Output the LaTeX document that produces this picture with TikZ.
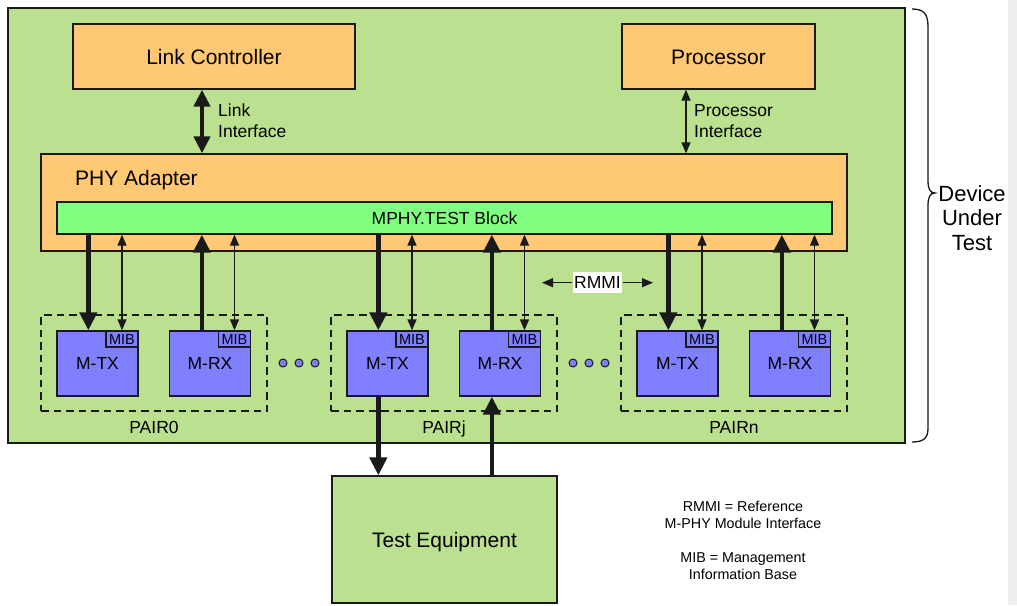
\documentclass[tikz,border=0pt]{standalone}
\usepackage{fontspec}
\setmainfont{Liberation Sans}
\usetikzlibrary{arrows.meta,calc}

\definecolor{dutgreen}{RGB}{187,224,143}
\definecolor{blockorange}{RGB}{255,200,117}
\definecolor{testgreen}{RGB}{128,255,128}
\definecolor{phyblue}{RGB}{128,128,255}
\definecolor{edgegray}{RGB}{239,239,239}
\definecolor{outline}{RGB}{26,26,26}

\newcommand{\fbig}{\fontsize{21}{24}\selectfont}
\newcommand{\fmid}{\fontsize{17.5}{21}\selectfont}
\newcommand{\fmib}{\fontsize{14.5}{16}\selectfont}
\newcommand{\fnote}{\fontsize{14.3}{17.4}\selectfont}

\tikzset{
  boxline/.style={draw=outline, line width=1.3pt, inner sep=0pt},
  dutbox/.style={boxline, fill=dutgreen},
  orangebox/.style={boxline, fill=blockorange, font=\fbig, text height=15pt, text depth=0pt},
  testblock/.style={boxline, fill=testgreen, font=\fmid, text height=12.6pt, text depth=0pt},
  unitbox/.style={boxline, fill=phyblue, minimum width=81pt, minimum height=65pt,
    font=\fmid, text height=12.6pt, text depth=0pt},
  mibbox/.style={boxline, fill=phyblue, minimum width=32pt, minimum height=16pt,
    font=\fmib, text height=10.4pt, text depth=0pt},
  pairbox/.style={draw=outline, line width=1.3pt, dash pattern=on 7.5pt off 5pt,
    minimum width=226pt, minimum height=96pt, inner sep=0pt},
  pairlabel/.style={inner sep=0pt, font=\fmid, text height=12.6pt, text depth=0pt},
  ellipsisdot/.style={circle, draw=outline, line width=1pt, fill=phyblue,
    minimum size=8pt, inner sep=0pt},
  biglink/.style={line width=4.5pt, outline,
    arrows={-Triangle[length=18pt,width=17pt]}},
  bigboth/.style={line width=4.5pt, outline,
    arrows={Triangle[length=17pt,width=16pt]-Triangle[length=17pt,width=16pt]}},
  thinlink/.style={line width=1.3pt, outline,
    arrows={-Triangle[length=11pt,width=9pt]}},
  thinboth/.style={line width=1.3pt, outline,
    arrows={Triangle[length=11pt,width=9pt]-Triangle[length=11pt,width=9pt]}},
}

\begin{document}
\begin{tikzpicture}[x=1pt, y=-1pt]
\useasboundingbox (0,0) rectangle (1017,605);
\fill[white] (0,0) rectangle (1017,605);
\fill[edgegray] (1008,0) rectangle (1017,605);

% device under test
\node[dutbox, minimum width=897pt, minimum height=435pt] (dut) at (456.5,225.5) {};

% upper blocks
\node[orangebox, minimum width=282pt, minimum height=65pt] (lc) at (214,56.5) {Link Controller};
\node[orangebox, minimum width=193pt, minimum height=65pt] (proc) at (718.5,56.5) {Processor};

\node[boxline, fill=blockorange, minimum width=806pt, minimum height=97pt] (phy) at (444,202.5) {};
\node[anchor=base west, inner sep=0pt, font=\fbig] (phylabel) at (75,185) {PHY Adapter};
\node[testblock, minimum width=775pt, minimum height=32pt] (mphy) at (444.5,218) {MPHY.TEST Block};

% link and processor interfaces
\coordinate (lcport) at ($(lc.south)+(-12,0)$);
\draw[bigboth] (lcport) -- (lcport |- phy.north);
\node[anchor=north west, inner sep=0pt, align=left, font=\fmid] (lclabel) at (218,104) {Link\\Interface};

\coordinate (procport) at ($(proc.south)+(-32.5,0)$);
\draw[thinboth] (procport) -- (procport |- phy.north);
\node[anchor=north west, inner sep=0pt, align=left, font=\fmid] (proclabel) at (694,104) {Processor\\Interface};

% lane pairs
\foreach \n/\dx/\lab in {0/0/PAIR0, j/290/PAIRj, n/580/PAIRn} {
  \begin{scope}[xshift=\dx pt]
    \node[pairbox] (pair\n) at (154,363) {};
    \node[pairlabel] (plab\n) at (154,427) {\lab};
    \node[unitbox] (tx\n) at (97.5,363.5) {M-TX};
    \node[mibbox, anchor=north east] (mibt\n) at (tx\n.north east) {MIB};
    \node[unitbox] (rx\n) at (210,363.5) {M-RX};
    \node[mibbox, anchor=north east] (mibr\n) at (rx\n.north east) {MIB};
  \end{scope}
  \coordinate (tp\n) at ($(tx\n.north west)+(32,0)$);
  \coordinate (rp\n) at ($(rx\n.north west)+(33,0)$);
  \draw[biglink] (tp\n |- mphy.south) -- (tp\n);
  \draw[thinboth] (mibt\n.north |- mphy.south) -- (mibt\n.north);
  \draw[biglink] (rp\n) -- (rp\n |- mphy.south);
  \draw[thinboth] (mibr\n.north |- mphy.south) -- (mibr\n.north);
}

% ellipsis between pairs
\foreach \k/\x in {a/283, b/299, c/315, d/573, e/589, f/605} {
  \node[ellipsisdot] (dot\k) at (\x,363) {};
}

% RMMI marker
\node[fill=white, inner xsep=1.5pt, inner ysep=4.5pt, font=\fmid, text height=12.5pt, text depth=0pt] (rmmi) at (597.5,282.7) {RMMI};
\coordinate (rmmiL) at (542,282.7);
\coordinate (rmmiR) at (653,282.7);
\draw[thinlink] (rmmi.west) -- (rmmiL);
\draw[thinlink] (rmmi.east) -- (rmmiR);

% test equipment
\node[dutbox, font=\fbig, text height=15pt, text depth=0pt, minimum width=225pt, minimum height=127pt] (te) at (444.5,539.5) {Test Equipment};
\draw[biglink] (tpj |- txj.south) -- (tpj |- te.north);
\draw[biglink] (rpj |- te.north) -- (rpj |- rxj.south);

% brace around the device
\draw[outline, line width=1.3pt]
  (912,9) .. controls (924,9) and (928,14) .. (928,27)
  -- (928,180) .. controls (928,189) and (930,193) .. (935,193)
  .. controls (930,193) and (928,197) .. (928,206)
  -- (928,428) .. controls (928,438) and (924,442) .. (912,442);
\node[anchor=north, inner sep=0pt, align=center, font=\fontsize{22}{24.5}\selectfont] (dutlabel) at (972,185) {Device\\Under\\Test};

% legend
\node[anchor=north, inner sep=0pt, align=center, font=\fnote] (note1) at (743,500.7) {RMMI = Reference\\M-PHY Module Interface};
\node[anchor=north, inner sep=0pt, align=center, font=\fnote] (note2) at (743,552.3) {MIB = Management\\Information Base};
\end{tikzpicture}
\end{document}
